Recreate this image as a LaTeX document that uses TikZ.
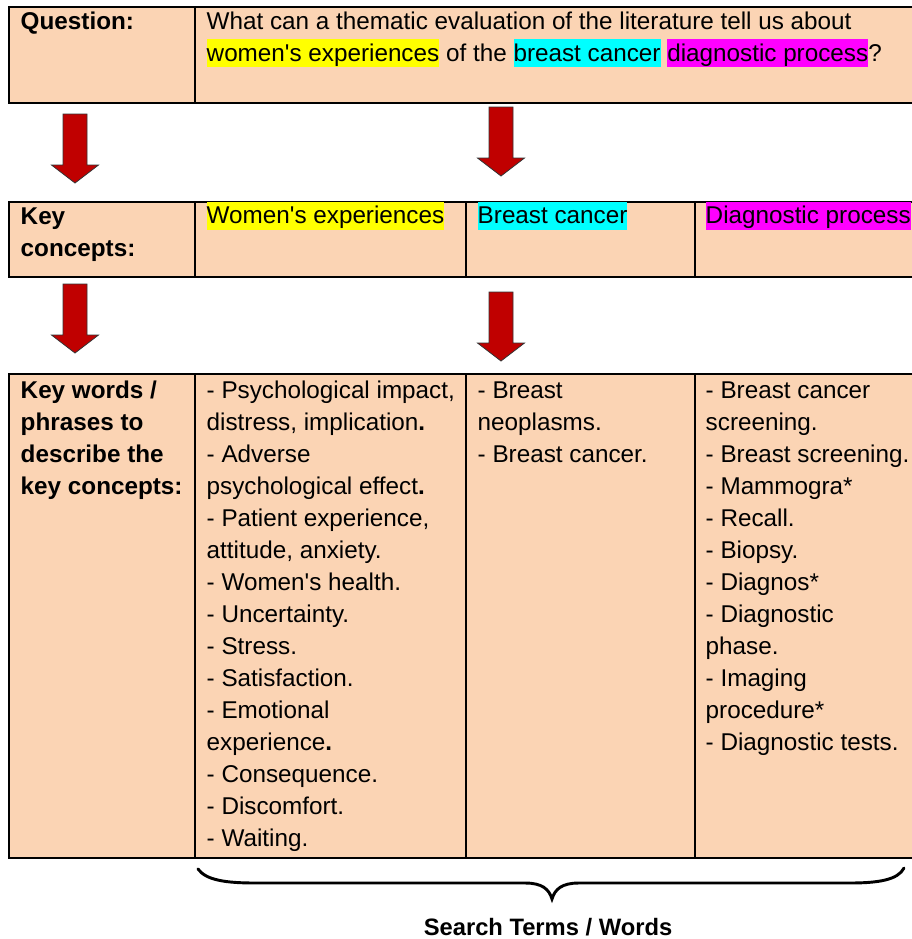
\documentclass[tikz,border=0pt]{standalone}
\usepackage{fontspec}
\setmainfont{Liberation Sans}
\usetikzlibrary{positioning,calc,fit}
\definecolor{peach}{RGB}{251,212,180}
\definecolor{darkred}{RGB}{192,0,0}
\definecolor{hlyellow}{RGB}{255,255,0}
\definecolor{hlcyan}{RGB}{0,255,255}
\definecolor{hlmagenta}{RGB}{255,0,255}
\newcommand{\tabfont}{\fontsize{18.2}{24}\selectfont}
\newcommand{\apos}{\textquotesingle}
\newcommand{\topstrut}{\rule{0pt}{16.8pt}}
\newcommand{\hlt}[2]{{\setlength{\fboxsep}{0pt}\colorbox{#1}{\rule[-4.5pt]{0pt}{21pt}#2}}}

\begin{document}
\begin{tikzpicture}[
    x=0.75pt, y=-0.75pt,
    cell/.style={draw, fill=peach, line width=0.8pt, inner sep=0pt},
    txt/.style={anchor=north west, align=left, inner sep=0pt, font=\tabfont},
    hd/.style={txt, font=\tabfont\bfseries},
    blockarr/.style={draw=black!80, line width=0.6pt, fill=darkred, line join=miter},
    downarr/.pic={\path[blockarr] (-12,0) -- (12,0) -- (12,51) -- (23.5,51)
                   -- (0,69) -- (-23.5,51) -- (-12,51) -- cycle;},
  ]
    \useasboundingbox (0,0) rectangle (912,939);

    % question
    \node[cell, fit={(9,7) (195,103)}]   (qlab) {};
    \node[cell, fit={(195,7) (915,103)}] (qbox) {};
    \node[hd]  (qlabt) at ([shift={(12,0)}]qlab.north west) {\topstrut Question:};
    \node[txt] (qtext) at ([shift={(12,0)}]qbox.north west)
      {\topstrut What can a thematic evaluation of the literature tell us about\\
       \hlt{hlyellow}{women\apos s experiences} of the \hlt{hlcyan}{breast cancer}
       \hlt{hlmagenta}{diagnostic process}?};

    % key concepts
    \node[cell, fit={(9,202) (195,277)}]   (kclab) {};
    \node[cell, fit={(195,202) (466,277)}] (kcwom) {};
    \node[cell, fit={(466,202) (695,277)}] (kcbc)  {};
    \node[cell, fit={(695,202) (915,277)}] (kcdp)  {};
    \node[hd]  (kclabt) at ([shift={(12,0)}]kclab.north west) {\topstrut Key\\concepts:};
    \node[txt] (kcwomt) at ([shift={(12,0)}]kcwom.north west) {\hlt{hlyellow}{Women\apos s experiences}};
    \node[txt] (kcbct)  at ([shift={(12,0)}]kcbc.north west)  {\hlt{hlcyan}{Breast cancer}};
    \node[txt] (kcdpt)  at ([shift={(11,0)}]kcdp.north west)  {\hlt{hlmagenta}{Diagnostic process}};

    % key words
    \node[cell, fit={(9,374) (195,858)}]   (kwlab) {};
    \node[cell, fit={(195,374) (466,858)}] (kwwom) {};
    \node[cell, fit={(466,374) (695,858)}] (kwbc)  {};
    \node[cell, fit={(695,374) (915,858)}] (kwdp)  {};
    \node[hd]  (kwlabt) at ([shift={(12,2)}]kwlab.north west)
      {\topstrut Key words /\\phrases to\\describe the\\key concepts:};
    \node[txt] (kwwomt) at ([shift={(12,2)}]kwwom.north west)
      {\topstrut - Psychological impact,\\distress, implication\textbf{.}\\- Adverse\\
       psychological effect\textbf{.}\\- Patient experience,\\attitude, anxiety.\\
       - Women\apos s health.\\- Uncertainty.\\- Stress.\\- Satisfaction.\\
       - Emotional\\experience\textbf{.}\\- Consequence.\\- Discomfort.\\- Waiting.};
    \node[txt] (kwbct)  at ([shift={(12,2)}]kwbc.north west)
      {\topstrut - Breast\\neoplasms.\\- Breast cancer.};
    \node[txt] (kwdpt)  at ([shift={(11,2)}]kwdp.north west)
      {\topstrut - Breast cancer\\screening.\\- Breast screening.\\- Mammogra*\\- Recall.\\
       - Biopsy.\\- Diagnos*\\- Diagnostic\\phase.\\- Imaging\\procedure*\\
       - Diagnostic tests.};

    % arrows between the rows
    \foreach \ax/\ay in {75/114, 501/107, 75/284, 501/292}
      \pic at (\ax,\ay) {downarr};

    % brace and search terms
    \coordinate (brL)   at (198,869);
    \coordinate (brR)   at (904,868);
    \coordinate (brtip) at (552,899);
    \draw[line width=2.2pt, line cap=round]
      (brL) .. controls (206,880) and (225,883) .. (255,883) -- (525,883)
      .. controls (542,883) and (549,889) .. (brtip)
      .. controls (555,889) and (562,883) .. (579,883) -- (850,883)
      .. controls (878,883) and (898,880) .. (brR);
    \node[font=\fontsize{17.8}{20}\selectfont\bfseries, anchor=base] (search)
      at (548,935) {Search Terms / Words};
\end{tikzpicture}
\end{document}
